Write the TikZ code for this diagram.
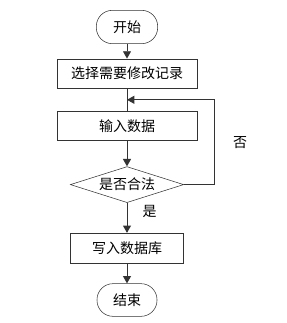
\documentclass[tikz,border=0pt]{standalone}
\usepackage{fontspec}
\newfontfamily\cjk{Noto Sans CJK SC}
\usepackage{tikz}
\usetikzlibrary{shapes.geometric, arrows.meta, positioning, calc}

\begin{document}
\begin{tikzpicture}[
    x=0.75pt, y=-0.75pt,
    every node/.style={font=\cjk\fontsize{10.5pt}{12pt}\selectfont},
    terminal/.style={rectangle, draw=black!80, rounded corners=12pt, minimum width=46pt, minimum height=25pt, inner sep=1pt},
    action/.style={rectangle, draw=black!80, minimum width=105pt, minimum height=22pt, inner sep=1pt},
    decision/.style={diamond, draw=black!80, aspect=3.1, minimum width=85pt, minimum height=27pt, inner sep=0pt},
    arrow/.style={-{Triangle[length=5.5pt, width=6pt]}, draw=black!80, line width=0.7pt},
    line/.style={draw=black!80, line width=0.7pt}
]
\useasboundingbox (0,0) rectangle (286,323);

\node[terminal] (start) at (127,27) {开始};
\node[action, below=11pt of start] (select) {选择需要修改记录};
\node[action, below=17pt of select] (input) {输入数据};
\node[decision, below=19pt of input] (check) {是否合法};
\node[action, minimum width=85pt, minimum height=22.5pt, below=22.5pt of check] (write) {写入数据库};
\node[terminal, minimum width=45pt, minimum height=24.5pt, below=15pt of write] (stop) {结束};

\coordinate (merge) at ($(select.south)!0.5!(input.north)$);

% Arrows
\draw[arrow] (start) -- (select);
\draw[line] (select) -- (input);
\draw[arrow] (input) -- (check);
\draw[arrow] (check.east) -- ++(31,0) |- node[pos=0.25, right=10pt] {否} (merge);
\draw[arrow] (check) -- node[pos=0.3, right=8pt] {是} (write);
\draw[arrow] (write) -- (stop);

\end{tikzpicture}
\end{document}
